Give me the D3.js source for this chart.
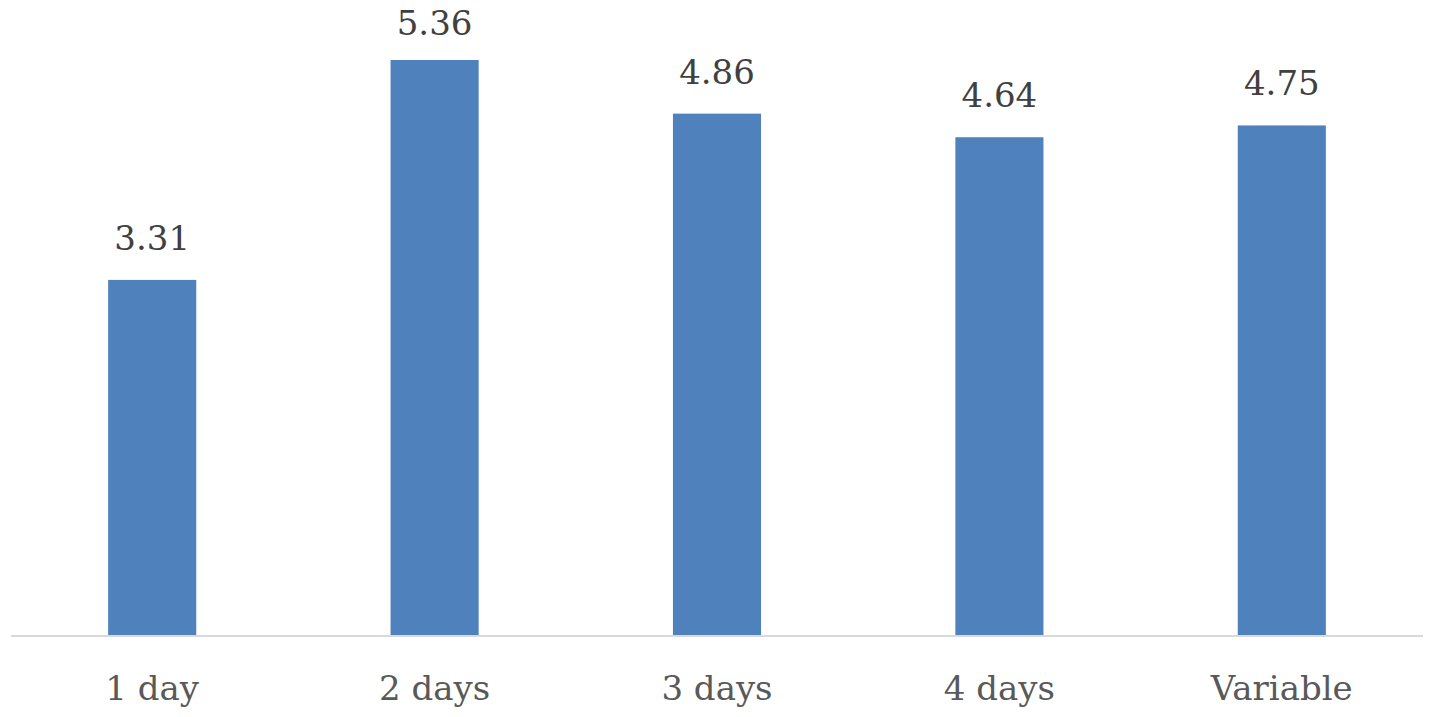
<!DOCTYPE html>
<meta charset="utf-8">
<title>Bar chart</title>
<script src="https://d3js.org/d3.v7.min.js"></script>
<style>
body {margin: 0; background: #fff;}
text {font-family: "DejaVu Serif", serif;}
</style>
<body>
<div id="chart"></div>
<script>
// data
var categories = ["1 day", "2 days", "3 days", "4 days", "Variable"];
var values = [3.31, 5.36, 4.86, 4.64, 4.75];

var width = 1429, height = 717;

var svg = d3.select("#chart")
  .append("svg")
    .attr("width", width)
    .attr("height", height);

// x: band scale for the categories
var x = d3.scaleBand()
  .domain(categories)
  .range([11, 1423])
  .paddingInner(0.688)
  .paddingOuter(0.344);

// y: linear, baseline at 635
var y = d3.scaleLinear()
  .domain([0, 5.36])
  .range([635, 60]);

// bars
svg.append("g")
  .selectAll("rect")
  .data(values)
  .enter()
  .append("rect")
    .attr("x", function(d, i) { return x(categories[i]); })
    .attr("y", function(d) { return y(d); })
    .attr("width", x.bandwidth())
    .attr("height", function(d) { return y(0) - y(d); })
    .style("fill", "#4f81bd");

// axis line
svg.append("line")
  .attr("x1", 11)
  .attr("x2", 1423)
  .attr("y1", y(0) + 1)
  .attr("y2", y(0) + 1)
  .style("stroke", "#d9d9d9")
  .style("stroke-width", 2);

// value labels (kept inside the top edge like the original)
svg.append("g")
  .selectAll("text")
  .data(values)
  .enter()
  .append("text")
    .attr("x", function(d, i) { return x(categories[i]) + x.bandwidth() / 2; })
    .attr("y", function(d) { return Math.max(y(d) - 30, 35); })
    .attr("text-anchor", "middle")
    .style("font-size", "34px")
    .style("fill", "#404040")
    .text(function(d) { return d.toFixed(2); });

// category labels
svg.append("g")
  .selectAll("text")
  .data(categories)
  .enter()
  .append("text")
    .attr("x", function(d) { return x(d) + x.bandwidth() / 2; })
    .attr("y", 700)
    .attr("text-anchor", "middle")
    .style("font-size", "34px")
    .style("fill", "#595959")
    .text(function(d) { return d; });
</script>
</body>
